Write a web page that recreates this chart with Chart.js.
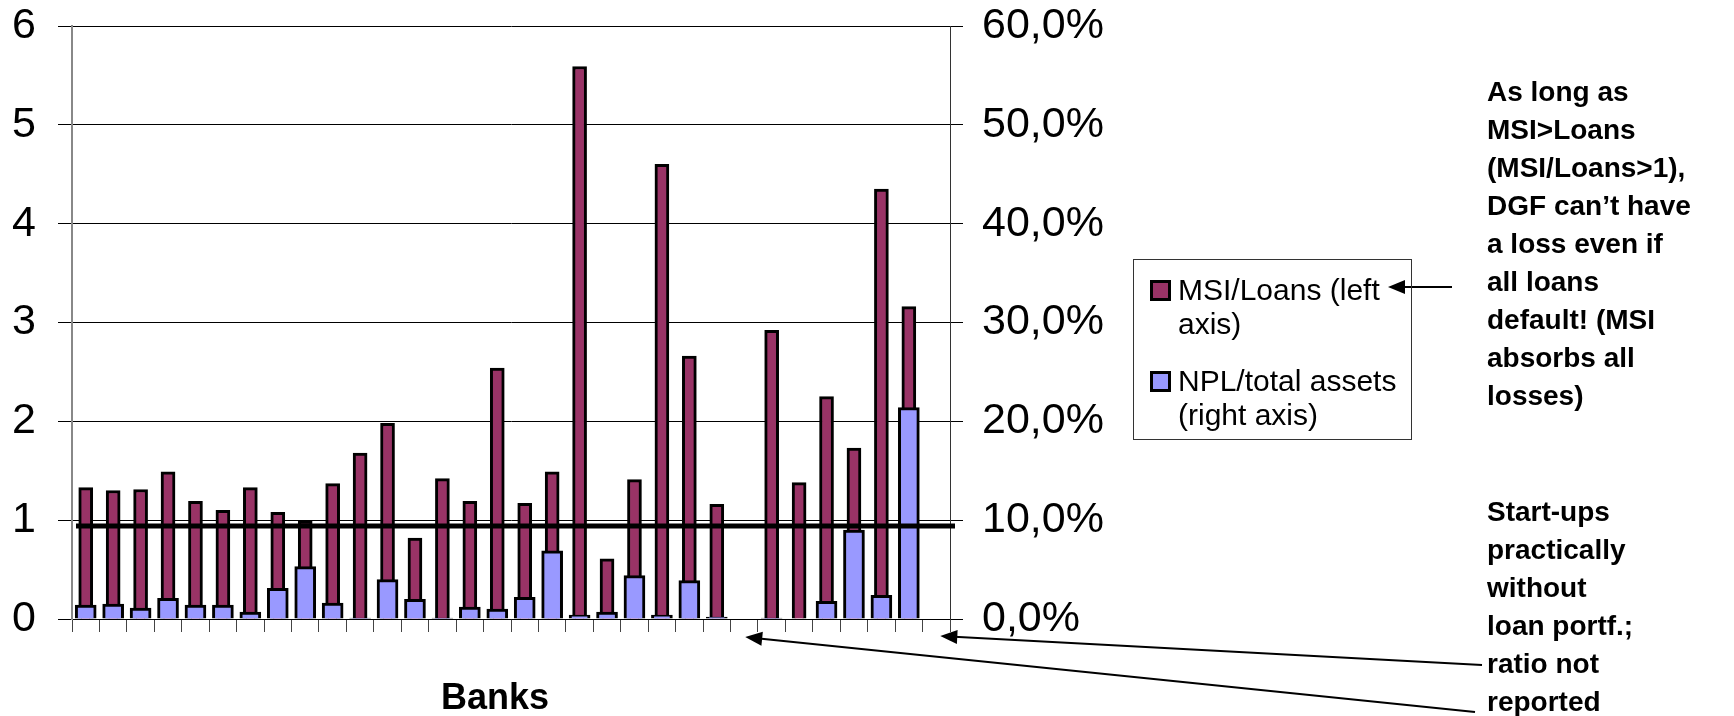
<!DOCTYPE html>
<html>
<head>
<meta charset="utf-8">
<script src="https://cdn.jsdelivr.net/npm/chart.js@4/dist/chart.umd.min.js"></script>
<style>
  body { margin: 0; background: #fff; }
  #wrap { position: relative; width: 1734px; height: 716px; }
  #myChart { position: absolute; left: 0; top: 0; }
  .leg { position: absolute; left: 1133px; top: 259px; width: 277px; height: 179px; border: 1px solid #333; }
  .item { position: absolute; left: 44px; font: 30px "Liberation Sans", Arial, sans-serif; line-height: 34px; color: #000; white-space: nowrap; }
  .sw { position: absolute; left: 16px; width: 15px; height: 15px; border: 3px solid #000; }
  .note { position: absolute; left: 1487px; font: bold 28px "Liberation Sans", Arial, sans-serif; line-height: 38px; color: #000; white-space: nowrap; }
</style>
</head>
<body>
<div id="wrap">
  <canvas id="myChart" width="1734" height="716"></canvas>
  <div class="leg">
    <div class="sw" style="top:20px;background:#993366"></div>
    <div class="item" style="top:13px">MSI/Loans (left<br>axis)</div>
    <div class="sw" style="top:111px;background:#9999ff"></div>
    <div class="item" style="top:104px">NPL/total assets<br>(right axis)</div>
  </div>
  <div class="note" style="top:73px">As long as<br>MSI&gt;Loans<br>(MSI/Loans&gt;1),<br>DGF can’t have<br>a loss even if<br>all loans<br>default! (MSI<br>absorbs all<br>losses)</div>
  <div class="note" style="top:493px">Start-ups<br>practically<br>without<br>loan portf.;<br>ratio not<br>reported</div>
</div>
<script>
// bancos (sin nombres en el grafico)
const banks = ['1','2','3','4','5','6','7','8','9','10','11','12','13','14','15','16',
  '17','18','19','20','21','22','23','24','25','26','27','28','29','30','31','32'];

// MSI / prestamos (eje izquierdo)
const msiLoans = [1.33, 1.30, 1.31, 1.49, 1.19, 1.10, 1.33, 1.08, 0.99, 1.37, 1.68, 1.98, 0.82, 1.42, 1.19, 2.54,
  1.17, 1.49, 5.59, 0.61, 1.41, 4.60, 2.66, 1.16, null, 2.92, 1.38, 2.25, 1.73, 4.35, 3.16, null];

// NPL / activos totales en % (eje derecho)
const nplAssets = [1.4, 1.5, 1.1, 2.1, 1.4, 1.4, 0.7, 3.1, 5.3, 1.6, 0.1, 4.0, 2.0, 0.1, 1.2, 1.0,
  2.2, 6.9, 0.4, 0.7, 4.4, 0.4, 3.9, 0.2, null, 0.1, 0, 1.8, 9.0, 2.4, 21.4, null];

const leftTicks = [0, 1, 2, 3, 4, 5, 6];
const rightTicks = [0, 10, 20, 30, 40, 50, 60];
const breakEven = 0.94;

const tickFont = { family: 'Liberation Sans, Arial, sans-serif', size: 43, lineHeight: 1 };

// linea gruesa, titulo del eje x y flechas
const extras = {
  id: 'extras',
  afterDatasetsDraw(chart) {
    const { ctx, chartArea, scales } = chart;
    const y = scales.y.getPixelForValue(breakEven);
    ctx.save();
    ctx.strokeStyle = '#000';
    ctx.lineWidth = 5;
    ctx.beginPath();
    ctx.moveTo(chartArea.left + 4, y);
    ctx.lineTo(chartArea.right + 5, y);
    ctx.stroke();
    ctx.restore();
  },
  afterDraw(chart) {
    const { ctx, scales } = chart;
    const arrow = (x1, y1, x2, y2) => {
      const a = Math.atan2(y2 - y1, x2 - x1);
      ctx.beginPath();
      ctx.moveTo(x1, y1);
      ctx.lineTo(x2 - 14 * Math.cos(a), y2 - 14 * Math.sin(a));
      ctx.stroke();
      ctx.beginPath();
      ctx.moveTo(x2, y2);
      ctx.lineTo(x2 - 17 * Math.cos(a) + 7 * Math.sin(a), y2 - 17 * Math.sin(a) - 7 * Math.cos(a));
      ctx.lineTo(x2 - 17 * Math.cos(a) - 7 * Math.sin(a), y2 - 17 * Math.sin(a) + 7 * Math.cos(a));
      ctx.closePath();
      ctx.fill();
    };
    ctx.save();
    ctx.fillStyle = '#000';
    ctx.font = 'bold 36px "Liberation Sans", Arial, sans-serif';
    ctx.textAlign = 'center';
    ctx.textBaseline = 'middle';
    ctx.fillText('Banks', 495, 699);
    ctx.strokeStyle = '#000';
    ctx.lineWidth = 2;
    arrow(1452, 287, 1388, 287);
    arrow(1482, 665, scales.x.getPixelForValue(31) + 4, 636);
    arrow(1475, 712, scales.x.getPixelForValue(24) + 1, 637);
    ctx.restore();
  }
};

// sin margen extra por las etiquetas
const noPad = (scale, w) => {
  scale.width = w;
  scale.paddingTop = 0;
  scale.paddingBottom = 0;
};

const ctx = document.getElementById('myChart');
new Chart(ctx, {
  type: 'bar',
  data: {
    labels: banks,
    datasets: [{
      label: 'MSI/Loans (left axis)',
      data: msiLoans,
      yAxisID: 'y',
      backgroundColor: '#993366',
      borderColor: '#000',
      borderWidth: 3,
      barThickness: 14,
      grouped: false,
      order: 2
    }, {
      label: 'NPL/total assets (right axis)',
      data: nplAssets,
      yAxisID: 'y1',
      backgroundColor: '#9999ff',
      borderColor: '#000',
      borderWidth: 3,
      barThickness: 21,
      grouped: false,
      order: 1
    }]
  },
  options: {
    responsive: false,
    animation: false,
    layout: { padding: { left: 0, right: 614, top: 26, bottom: 0 } },
    plugins: { legend: { display: false }, tooltip: { enabled: false } },
    scales: {
      x: {
        ticks: { display: false },
        grid: { drawOnChartArea: false, drawTicks: true, tickLength: 13, color: '#444', offset: true },
        border: { color: '#000', width: 1 },
        afterFit(scale) { scale.height = 97; }
      },
      y: {
        position: 'left',
        min: 0, max: 6,
        afterBuildTicks(scale) { scale.ticks = leftTicks.map(v => ({ value: v })); },
        ticks: { color: '#000', font: tickFont, padding: 22 },
        grid: { color: '#000', lineWidth: 1, tickLength: 14 },
        border: { color: '#888', width: 2 },
        afterFit(scale) { noPad(scale, 72); }
      },
      y1: {
        position: 'right',
        min: 0, max: 60,
        afterBuildTicks(scale) { scale.ticks = rightTicks.map(v => ({ value: v })); },
        ticks: {
          color: '#000', font: tickFont, padding: 19,
          callback: (v) => v.toFixed(1).replace('.', ',') + '%'
        },
        grid: { drawOnChartArea: false, color: '#000', tickLength: 13 },
        border: { color: '#333', width: 1 },
        afterFit(scale) { noPad(scale, 170); }
      }
    }
  },
  plugins: [extras]
});
</script>
</body>
</html>
